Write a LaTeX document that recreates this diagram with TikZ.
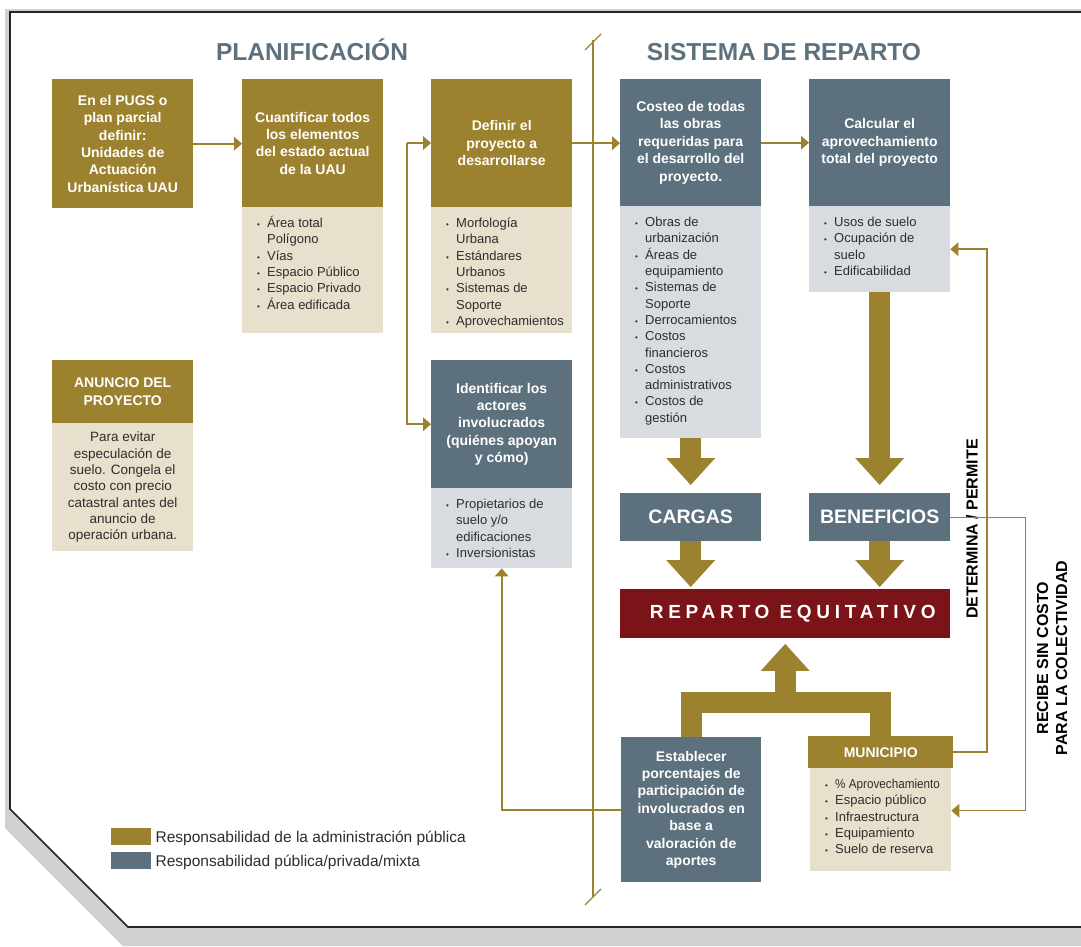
\documentclass[tikz,border=0pt]{standalone}
\RequirePackage{fontspec}
\setmainfont{Liberation Sans}
\usetikzlibrary{calc}
\usetikzlibrary{arrows.meta}

\definecolor{oro}{RGB}{156,129,46}
\definecolor{beige}{RGB}{231,224,204}
\definecolor{pizarra}{RGB}{92,112,125}
\definecolor{gris}{RGB}{216,220,224}
\definecolor{vino}{RGB}{122,20,24}
\definecolor{sombra}{RGB}{208,208,208}
\definecolor{borde}{RGB}{35,35,35}
\definecolor{texto}{RGB}{45,45,45}

\newcommand{\bul}{\makebox[10pt][l]{\strut{\fontsize{8}{8}\selectfont\textbullet}}}
\newcommand{\ind}{\hspace*{10pt}\strut}

\begin{document}
\begin{tikzpicture}[x=1pt,y=-1pt,
        caja/.style={anchor=north west,inner sep=0pt,minimum width=141pt,align=center,text=white,font=\fontsize{14}{17.4}\selectfont\bfseries},
        fondo/.style={anchor=north west,inner sep=0pt,minimum width=141pt},
        lista/.style={anchor=north west,inner sep=0pt,align=left,text=texto,font=\fontsize{13}{16.3}\selectfont},
        flecha/.style={draw=oro,line width=2.4pt,-{Triangle[length=8pt,width=14pt,line width=0pt]}},
        gruesa/.style={draw=oro,line width=21pt,-{Triangle[length=27pt,width=49pt,line width=0pt]}},
        titulo/.style={anchor=base,inner sep=0pt,text=pizarra,font=\fontsize{24.5}{24.5}\selectfont\bfseries},
        etiqueta/.style={rotate=90,inner sep=0pt,align=center,text=black,font=\fontsize{16}{19}\selectfont\bfseries}]
                \useasboundingbox (0,0) rectangle (1081,946);

                \fill[sombra] (5,9) -- (1081,9) -- (1081,946) -- (123,946) -- (5,828) -- cycle;
                \fill[white] (10,12) -- (1081,12) -- (1081,927) -- (128,927) -- (10,809) -- cycle;
                \draw[borde,line width=1.6pt] (1081,12) -- (10,12) -- (10,809) -- (128,927) -- (1081,927);

                \draw[oro,line width=1.3pt] (593,40) -- (593,897);
                \draw[oro,line width=1.3pt] (585,50) -- (601,34);
                \draw[oro,line width=1.3pt] (585,905) -- (601,889);

                \node[titulo] (planif) at (312,60) {PLANIFICACIÓN};
                \node[titulo] (sistema) at (784,60) {SISTEMA DE REPARTO};

                \node[caja,fill=oro,minimum height=129pt] (pugs) at (52,79) {En el PUGS o\\plan parcial\\definir:\\Unidades de\\Actuación\\Urbanística UAU};

                \node[caja,fill=oro,minimum height=128pt] (cuant) at (242,79) {Cuantificar todos\\los elementos\\del estado actual\\de la UAU};
                \node[fondo,fill=beige,minimum height=126pt] (cuantfondo) at (242,207) {};
                \node[lista] (cuantlista) at (257,216) {\bul Área total\\\ind Polígono\\\bul Vías\\\bul Espacio Público\\\bul Espacio Privado\\\bul Área edificada};

                \node[caja,fill=oro,minimum height=128pt] (definir) at (431,79) {Definir el\\proyecto a\\desarrollarse};
                \node[fondo,fill=beige,minimum height=126pt] (definirfondo) at (431,207) {};
                \node[lista] (definirlista) at (446,216) {\bul Morfología\\\ind Urbana\\\bul Estándares\\\ind Urbanos\\\bul Sistemas de\\\ind Soporte\\\bul Aprovechamientos};

                \node[caja,fill=pizarra,minimum height=127pt] (costeo) at (620,79) {Costeo de todas\\las obras\\requeridas para\\el desarrollo del\\proyecto.};
                \node[fondo,fill=gris,minimum height=232pt] (costeofondo) at (620,206) {};
                \node[lista] (costeolista) at (635,215) {\bul Obras de\\\ind urbanización\\\bul Áreas de\\\ind equipamiento\\\bul Sistemas de\\\ind Soporte\\\bul Derrocamientos\\\bul Costos\\\ind financieros\\\bul Costos\\\ind administrativos\\\bul Costos de\\\ind gestión};

                \node[caja,fill=pizarra,minimum height=127pt] (calcular) at (809,79) {Calcular el\\aprovechamiento\\total del proyecto};
                \node[fondo,fill=gris,minimum height=86pt] (calcularfondo) at (809,206) {};
                \node[lista] (calcularlista) at (824,215) {\bul Usos de suelo\\\bul Ocupación de\\\ind suelo\\\bul Edificabilidad};

                \node[caja,fill=oro,minimum height=63pt] (anuncio) at (52,360) {ANUNCIO DEL\\PROYECTO};
                \node[fondo,fill=beige,minimum height=128pt,align=center,text=texto,font=\fontsize{13.5}{16.3}\selectfont] (anunciotexto) at (52,423) {Para evitar\\especulación de\\suelo. Congela el\\costo con precio\\catastral antes del\\anuncio de\\operación urbana.};

                \node[caja,fill=pizarra,minimum height=128pt] (identif) at (431,360) {Identificar los\\actores\\involucrados\\(quiénes apoyan\\y cómo)};
                \node[fondo,fill=gris,minimum height=80pt] (identiffondo) at (431,488) {};
                \node[lista] (identiflista) at (446,497) {\bul Propietarios de\\\ind suelo y/o\\\ind edificaciones\\\bul Inversionistas};

                \node[caja,fill=pizarra,minimum height=48pt,font=\fontsize{19.5}{19.5}\selectfont\bfseries] (cargas) at (620,493) {CARGAS};
                \node[caja,fill=pizarra,minimum height=48pt,font=\fontsize{19.5}{19.5}\selectfont\bfseries] (beneficios) at (809,493) {BENEFICIOS};

                \node[caja,fill=vino,minimum width=330pt,minimum height=48.5pt,font={\fontsize{19}{19}\selectfont\bfseries\addfontfeature{LetterSpace=25}}] (reparto) at (620,589) {\hspace*{15pt}REPARTO EQUITATIVO};

                \node[caja,fill=pizarra,minimum width=140pt,minimum height=145pt] (establecer) at (621,737) {Establecer\\porcentajes de\\participación de\\involucrados en\\base a\\valoración de\\aportes};

                \node[caja,fill=oro,minimum width=145pt,minimum height=32pt] (municipio) at (808,736) {MUNICIPIO};
                \node[fondo,fill=beige,minimum height=103pt] (municipiofondo) at (810,768) {};
                \node[lista] (municipiolista) at (825,777) {\bul \scalebox{0.9}[1]{\% Aprovechamiento}\\\bul Espacio público\\\bul Infraestructura\\\bul Equipamiento\\\bul Suelo de reserva};

                \node[etiqueta] (determina) at (972,529) {DETERMINA / PERMITE};
                \node[etiqueta] (recibe) at (1052,658) {RECIBE SIN COSTO\\PARA LA COLECTIVIDAD};

                \node[anchor=north west,inner sep=0pt,minimum width=40pt,minimum height=17pt,fill=oro] (leyendaoro) at (111,828) {};
                \node[anchor=north west,inner sep=0pt,minimum width=40pt,minimum height=17pt,fill=pizarra] (leyendapizarra) at (111,852) {};
                \node[anchor=base west,inner sep=0pt,text=texto,font=\fontsize{15.5}{15.5}\selectfont] (leyendaorotexto) at ([xshift=4pt,yshift=-6pt]leyendaoro.east) {Responsabilidad de la administración pública};
                \node[anchor=base west,inner sep=0pt,text=texto,font=\fontsize{15.5}{15.5}\selectfont] (leyendapizarratexto) at ([xshift=4pt,yshift=-6pt]leyendapizarra.east) {Responsabilidad pública/privada/mixta};

                \coordinate (bifurca) at (407,143);
                \draw[flecha] (pugs.east) -- (pugs.east -| cuant.west);
                \draw[flecha] (bifurca) -- (bifurca -| definir.west);
                \draw[flecha] (bifurca) |- (identif.west);
                \draw[flecha] (definir.east) -- (definir.east -| costeo.west);
                \draw[flecha] (costeo.east) -- (costeo.east -| calcular.west);
                \draw[flecha,line width=2pt] (municipio.east) -- ++(34,0) |- (calcularfondo.east);
                \draw[flecha,line width=1.3pt] (beneficios.east) -- ++(75,0) |- ([yshift=9pt]municipiofondo.east);
                \draw[flecha,line width=2.2pt] (establecer.west) -| (identiffondo.south);

                \draw[gruesa] (costeofondo.south) -- ([yshift=8pt]cargas.north);
                \draw[gruesa] (calcularfondo.south) -- ([yshift=8pt]beneficios.north);
                \draw[gruesa] (cargas.south) -- ([yshift=2pt]cargas.south |- reparto.north);
                \draw[gruesa] (beneficios.south) -- ([yshift=2pt]beneficios.south |- reparto.north);

                \coordinate (horquilla) at ($(reparto.south)+(0,64.5)$);
                \draw[oro,line width=21pt] (establecer.north) |- (horquilla) -| (municipio.north);
                \draw[gruesa] (horquilla) -- ([yshift=-6pt]reparto.south);
\end{tikzpicture}
\end{document}
